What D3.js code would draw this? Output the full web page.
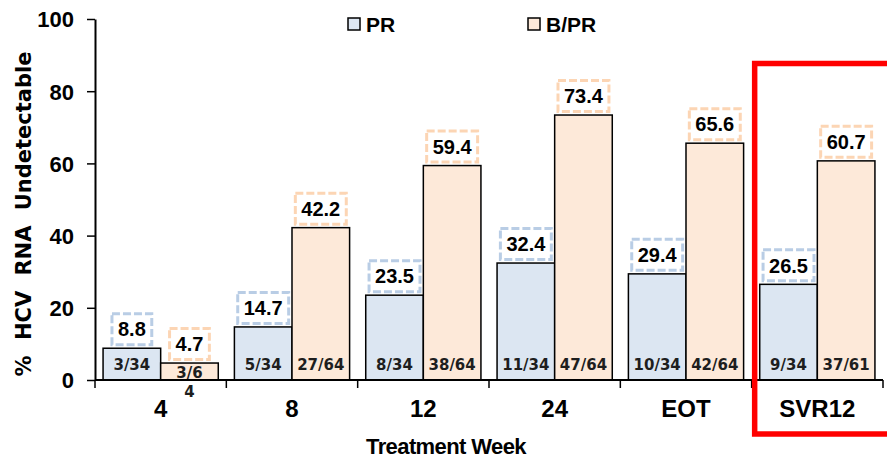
<!DOCTYPE html>
<html>
<head>
<meta charset="utf-8">
<script src="https://cdn.jsdelivr.net/npm/d3@7"></script>
<style>
  html, body { margin: 0; padding: 0; background: #fff; }
  svg { display: block; }
  text { font-family: "Liberation Sans", Arial, sans-serif; }
</style>
</head>
<body>
<svg id="chart" width="887" height="459"></svg>
<script>
// Timepoints on the x axis
const categories = ["4", "8", "12", "24", "EOT", "SVR12"];
const seriesNames = ["PR", "B/PR"];
// % of patients with undetectable HCV RNA
const prValues = [8.8, 14.7, 23.5, 32.4, 29.4, 26.5];
const bprValues = [4.7, 42.2, 59.4, 73.4, 65.6, 60.7];
// Patient counts (n/N) printed inside the bars
const prCounts = ["3/34", "5/34", "8/34", "11/34", "10/34", "9/34"];
const bprCounts = ["3/64", "27/64", "38/64", "47/64", "42/64", "37/61"];
const yTicks = [0, 20, 40, 60, 80, 100];

const fills = { "PR": "#dce6f2", "B/PR": "#fde9d9" };
const dashColors = { "PR": "#b9cde5", "B/PR": "#fcd5b4" };

const svg = d3.select("#chart");

const x0 = d3.scaleBand().domain(categories).range([95, 883]).padding(0);
const x1 = d3.scaleBand().domain(seriesNames).range([0, x0.bandwidth()])
  .paddingInner(0).paddingOuter(0.14);
const y = d3.scaleLinear().domain([0, 100]).range([380, 19]);

const rows = categories.map((c, i) => ({
  cat: c,
  bars: [
    { s: "PR", v: prValues[i], n: prCounts[i] },
    { s: "B/PR", v: bprValues[i], n: bprCounts[i] }
  ]
}));

// Y axis
const yAxis = svg.append("g")
  .attr("transform", "translate(95,0)")
  .call(d3.axisLeft(y).tickValues(yTicks).tickSize(8).tickSizeOuter(0).tickPadding(13));
yAxis.select(".domain").attr("stroke", "#000").attr("stroke-width", 2);
yAxis.selectAll(".tick line").attr("stroke", "#000").attr("stroke-width", 1.5);
yAxis.selectAll(".tick text")
  .attr("fill", "#000")
  .style("font-family", "'Liberation Sans', Arial, sans-serif")
  .style("font-size", "22px").style("font-weight", "bold")
  .attr("dy", "0.36em");

// Bars
const groups = svg.append("g").selectAll("g.grp").data(rows).join("g")
  .attr("class", "grp")
  .attr("transform", d => `translate(${x0(d.cat)},0)`);

groups.selectAll("rect.bar").data(d => d.bars).join("rect")
  .attr("class", "bar")
  .attr("x", d => x1(d.s))
  .attr("y", d => y(d.v))
  .attr("width", x1.bandwidth())
  .attr("height", d => y(0) - y(d.v))
  .attr("fill", d => fills[d.s])
  .attr("stroke", "#000")
  .attr("stroke-width", 1.5);

// Count labels inside the bars (wrap onto two lines when the bar is very short)
groups.selectAll("text.count").data(d => d.bars).join("text")
  .attr("class", "count")
  .attr("text-anchor", "middle")
  .attr("fill", "#1e1e1e")
  .style("font-family", "'DejaVu Sans', Verdana, sans-serif")
  .style("font-size", "15px").style("font-weight", "bold")
  .each(function (d) {
    const cx = x1(d.s) + x1.bandwidth() / 2;
    const short = (y(0) - y(d.v)) < 20;
    const base = Math.max(y(0) - 10.5, y(d.v) + 15);
    const t = d3.select(this);
    if (short) {
      t.append("tspan").attr("x", cx).attr("y", base).text(d.n.slice(0, -1));
      t.append("tspan").attr("x", cx).attr("y", base + 19).text(d.n.slice(-1));
    } else {
      t.append("tspan").attr("x", cx).attr("y", base).text(d.n);
    }
  });

// Value labels in dashed boxes above each bar
groups.each(function (row) {
  const g = d3.select(this);
  row.bars.forEach(d => {
    const cx = x1(d.s) + x1.bandwidth() / 2;
    const boxBottom = y(d.v) - 3.5;
    const boxH = 31;
    const lab = g.append("g");
    const rect = lab.append("rect");
    const txt = lab.append("text")
      .attr("x", cx)
      .attr("y", boxBottom - boxH / 2)
      .attr("dy", "0.36em")
      .attr("text-anchor", "middle")
      .attr("fill", "#000")
      .style("font-size", "20px").style("font-weight", "bold")
      .text(d.v.toFixed(1));
    const w = txt.node().getComputedTextLength() + 12;
    rect.attr("x", cx - w / 2)
      .attr("y", boxBottom - boxH)
      .attr("width", w)
      .attr("height", boxH)
      .attr("fill", "#fff")
      .attr("stroke", dashColors[d.s])
      .attr("stroke-width", 3)
      .attr("stroke-dasharray", "8,3");
  });
});

// X axis: baseline, boundary ticks and category labels
svg.append("line")
  .attr("x1", x0.range()[0]).attr("x2", x0.range()[1])
  .attr("y1", y(0)).attr("y2", y(0))
  .attr("stroke", "#000").attr("stroke-width", 2);
const bounds = categories.map(c => x0(c)).concat([x0.range()[1]]);
svg.append("g").selectAll("line").data(bounds).join("line")
  .attr("x1", d => d).attr("x2", d => d)
  .attr("y1", y(0)).attr("y2", y(0) + 8)
  .attr("stroke", "#000").attr("stroke-width", 1.5);

const xAxis = svg.append("g")
  .attr("transform", `translate(0,${y(0)})`)
  .call(d3.axisBottom(x0).tickSize(0).tickPadding(20));
xAxis.select(".domain").remove();
xAxis.selectAll(".tick text")
  .attr("fill", "#000")
  .style("font-family", "'Liberation Sans', Arial, sans-serif")
  .style("font-size", "24px").style("font-weight", "bold");

// Axis titles
svg.append("text")
  .attr("x", 446).attr("y", 454)
  .attr("text-anchor", "middle")
  .style("font-size", "22px").style("font-weight", "bold")
  .style("letter-spacing", "-0.6px")
  .text("Treatment Week");

svg.append("text")
  .attr("transform", "translate(31,214) rotate(-90)")
  .attr("text-anchor", "middle")
  .style("font-family", "'DejaVu Sans', Verdana, sans-serif")
  .style("font-size", "21px").style("font-weight", "bold")
  .style("word-spacing", "8px")
  .text("% HCV RNA Undetectable");

// Legend
const legendItems = [
  { s: "PR", x: 348 },
  { s: "B/PR", x: 528 }
];
const lg = svg.append("g").selectAll("g").data(legendItems).join("g")
  .attr("transform", d => `translate(${d.x},18)`);
lg.append("rect")
  .attr("width", 12).attr("height", 12)
  .attr("fill", d => fills[d.s])
  .attr("stroke", "#000").attr("stroke-width", 1.5);
lg.append("text")
  .attr("x", 18).attr("y", 14)
  .style("font-size", "21px").style("font-weight", "bold")
  .text(d => d.s);

// Highlight frame around the SVR12 group
svg.append("rect")
  .attr("x", x0("SVR12") + 3).attr("y", 63.5)
  .attr("width", 200).attr("height", 370.5)
  .attr("fill", "none")
  .attr("stroke", "#ff0000").attr("stroke-width", 5.5);
</script>
</body>
</html>
